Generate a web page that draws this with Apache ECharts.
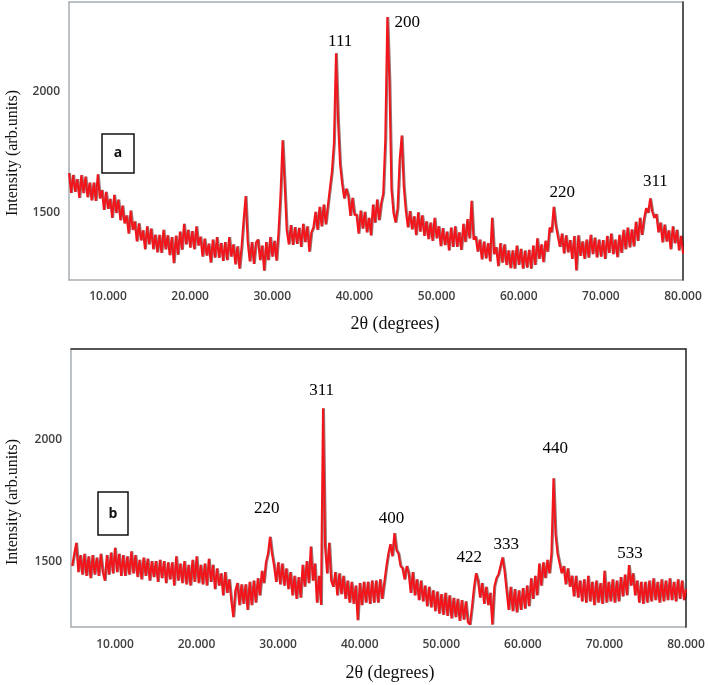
<!DOCTYPE html>
<html><head><meta charset="utf-8">
<script src="https://cdn.jsdelivr.net/npm/echarts@6/dist/echarts.min.js"></script>
<style>html,body{margin:0;padding:0;background:#fff}#c{width:708px;height:685px}</style>
</head><body><div id="c"></div>
<script>
// sampling grid of the two patterns (2θ, degrees)
const angleStartA = 5.25;
const angleStartB = 4.75;
const angleStep = 0.25;

// pattern (a): intensity, 5.25° .. 80.0°
const intensityA = [
1665,1583,1657,1587, 1640,1562,1657,1582, 1650,1565,1625,1552, 1625,1550,1660,1560,
1595,1513,1587,1517, 1558,1480,1575,1500, 1555,1470,1530,1457, 1490,1415,1510,1430,
1465,1383,1457,1387, 1428,1350,1445,1370, 1435,1350,1410,1337, 1410,1335,1430,1350,
1408,1326,1400,1293, 1406,1328,1423,1348, 1455,1370,1430,1357, 1425,1350,1445,1365,
1402,1320,1394,1324, 1373,1295,1390,1315, 1400,1315,1375,1302, 1380,1305,1400,1320,
1370,1288,1362,1270, 1358,1470,1570,1380, 1300,1380,1290,1378, 1390,1305,1365,1262,
1380,1305,1400,1320, 1385,1303,1420,1580, 1800,1620,1430,1370, 1450,1368,1442,1372,
1438,1360,1455,1380, 1445,1340,1420,1440, 1505,1430,1525,1445, 1535,1453,1527,1600,
1670,1790,2160,1880, 1700,1620,1560,1600, 1570,1488,1562,1492, 1493,1415,1510,1435,
1505,1420,1480,1407, 1535,1460,1555,1470, 1540,1580,1800,2310, 2050,1600,1500,1460,
1520,1720,1820,1610, 1510,1440,1508,1432, 1486,1408,1503,1423, 1490,1405,1465,1392,
1460,1385,1480,1395, 1445,1363,1437,1367, 1423,1345,1440,1360, 1445,1360,1420,1347,
1455,1380,1475,1395, 1550,1390,1402,1340, 1390,1308,1382,1312, 1375,1300,1480,1330,
1358,1280,1375,1295, 1370,1285,1345,1272, 1345,1270,1365,1285, 1352,1270,1344,1274,
1348,1270,1365,1285, 1395,1310,1370,1297, 1385,1340,1440,1420, 1525,1450,1405,1360,
1415,1333,1407,1337, 1388,1310,1405,1262, 1408,1323,1383,1310, 1390,1315,1410,1330,
1398,1316,1390,1320, 1388,1310,1405,1335, 1415,1330,1390,1317, 1410,1335,1430,1350,
1440,1358,1432,1362, 1463,1385,1480,1410, 1475,1520,1500,1560, 1505,1480,1495,1420,
1460,1378,1452,1382, 1428,1350,1445,1375, 1430,1345,1405,1332
];

// pattern (b): intensity, 4.75° .. 80.0°
const intensityB = [
1480,
1530,1575,1455,1525, 1445,1530,1440,1520, 1430,1525,1445,1515, 1440,1530,1455,1420,
1525,1445,1535,1450, 1555,1455,1530,1440, 1525,1440,1520,1445, 1540,1450,1525,1435,
1505,1425,1515,1440, 1510,1420,1500,1435, 1500,1415,1505,1430, 1500,1410,1495,1425,
1495,1400,1520,1420, 1490,1410,1500,1405, 1485,1400,1505,1415, 1520,1410,1485,1405,
1490,1400,1510,1415, 1485,1385,1470,1400, 1450,1360,1455,1370, 1425,1340,1270,1380,
1410,1320,1405,1325, 1405,1300,1415,1320, 1420,1330,1430,1360, 1460,1410,1495,1530,
1600,1530,1480,1415, 1495,1405,1490,1400, 1470,1385,1455,1360, 1440,1345,1435,1350,
1485,1395,1500,1410, 1560,1420,1490,1330, 1440,1320,2127,1560, 1450,1575,1420,1395,
1455,1360,1450,1365, 1440,1345,1420,1330, 1415,1325,1400,1258, 1410,1320,1415,1330,
1415,1325,1420,1330, 1420,1330,1425,1345, 1410,1475,1530,1570, 1520,1615,1545,1530,
1480,1470,1425,1480, 1450,1370,1455,1360, 1425,1340,1420,1335, 1400,1315,1395,1310,
1380,1295,1375,1285, 1365,1280,1370,1275, 1360,1265,1350,1270, 1345,1255,1340,1260,
1335,1250,1240,1310, 1390,1450,1420,1350, 1410,1325,1395,1320, 1370,1240,1395,1430,
1445,1480,1515,1460, 1380,1300,1395,1295, 1385,1290,1380,1300, 1390,1305,1400,1315,
1430,1345,1440,1360, 1490,1400,1495,1430, 1505,1450,1530,1840, 1610,1530,1490,1450,
1480,1405,1470,1395, 1440,1355,1440,1350, 1420,1335,1425,1330, 1440,1335,1415,1320,
1420,1330,1410,1325, 1460,1330,1415,1335, 1425,1330,1420,1335, 1435,1355,1445,1360,
1484,1400,1450,1360, 1420,1330,1415,1325, 1415,1330,1420,1335, 1430,1340,1415,1330,
1425,1335,1420,1340, 1430,1340,1415,1335, 1425,1345,1420,1340,
1385
];

const xTickValues = [10, 20, 30, 40, 50, 60, 70, 80];
const yTickValues = [1500, 2000];

// reflection labels: [text, 2θ, intensity] (label centre)
const peakLabelsA = [['111', 38.26, 2210], ['200', 46.42, 2289], ['220', 65.3, 1583], ['311', 76.63, 1628]];
const peakLabelsB = [['311', 35.33, 2201], ['220', 28.6, 1717], ['400', 43.9, 1676], ['422', 53.44, 1516],
                     ['333', 57.97, 1570], ['440', 63.97, 1963], ['533', 73.14, 1533]];

function pairs(start, vals) { return vals.map((v, i) => [start + i * angleStep, v]); }

const tickFont = { fontFamily: 'Open Sans', fontWeight: 600, fontSize: 12, color: '#3f3f3f' };
const serif = 'Liberation Serif';

function xAxis(gi, min, margin) {
  return { type: 'value', gridIndex: gi, min: min, max: 80,
    axisLine: { show: false }, axisTick: { show: false }, splitLine: { show: false },
    axisLabel: Object.assign({ customValues: xTickValues, margin: margin,
      formatter: v => v.toFixed(3) }, tickFont) };
}
function yAxis(gi, min, max) {
  return { type: 'value', gridIndex: gi, min: min, max: max,
    axisLine: { show: false }, axisTick: { show: false }, splitLine: { show: false },
    axisLabel: Object.assign({ customValues: yTickValues, margin: 9, formatter: v => String(v) }, tickFont) };
}
function edgeY(gi, min, max) {
  return { type: 'value', gridIndex: gi, min: min, max: max, position: 'right',
    axisLine: { show: true, lineStyle: { color: '#333', width: 1.5 } },
    axisTick: { show: false }, axisLabel: { show: false }, splitLine: { show: false } };
}
const lineStyle = { color: '#f2161c', width: 2, shadowColor: 'rgba(70,0,0,0.55)', shadowBlur: 0, shadowOffsetX: 1 };

function labelSeries(xi, yi, arr) {
  return { type: 'scatter', xAxisIndex: xi, yAxisIndex: yi, symbolSize: 1, silent: true,
    itemStyle: { color: 'rgba(0,0,0,0)', opacity: 1 },
    label: { show: true, position: 'inside', formatter: '{b}', fontFamily: serif, fontSize: 17, color: '#000' },
    data: arr.map(p => ({ name: p[0], value: [p[1], p[2]] })) };
}

const chart = echarts.init(document.getElementById('c'));
chart.setOption({
  animation: false,
  backgroundColor: '#fff',
  grid: [
    { left: 69, top: 2, width: 614, height: 278, show: true, borderColor: '#a6adb4', borderWidth: 1.5 },
    { left: 71, top: 349, width: 615, height: 278, show: true, borderColor: '#a6adb4', borderWidth: 1.5 }
  ],
  xAxis: [
    xAxis(0, 5.25, 11),
    xAxis(1, 4.61, 12),
    { type: 'value', gridIndex: 1, min: 4.61, max: 80, position: 'top',
      axisLine: { show: true, lineStyle: { color: '#333', width: 1.5 } },
      axisTick: { show: false }, axisLabel: { show: false }, splitLine: { show: false } }
  ],
  yAxis: [
    yAxis(0, 1223, 2372),
    yAxis(1, 1230, 2370),
    edgeY(0, 1223, 2372),
    edgeY(1, 1230, 2370)
  ],
  series: [
    { type: 'line', xAxisIndex: 0, yAxisIndex: 0, data: pairs(angleStartA, intensityA),
      showSymbol: false, sampling: null, lineStyle: lineStyle, silent: true },
    { type: 'line', xAxisIndex: 1, yAxisIndex: 1, data: pairs(angleStartB, intensityB),
      showSymbol: false, sampling: null, lineStyle: lineStyle, silent: true },
    labelSeries(0, 0, peakLabelsA),
    labelSeries(1, 1, peakLabelsB)
  ],
  graphic: [
    { type: 'text', x: 13, y: 153, rotation: Math.PI / 2,
      style: { text: 'Intensity (arb.units)', font: '16px "Liberation Serif"', fill: '#111', align: 'center', verticalAlign: 'middle' } },
    { type: 'text', x: 13, y: 502, rotation: Math.PI / 2,
      style: { text: 'Intensity (arb.units)', font: '16px "Liberation Serif"', fill: '#111', align: 'center', verticalAlign: 'middle' } },
    { type: 'text', x: 395, y: 324,
      style: { text: '2θ (degrees)', font: '18px "Liberation Serif"', fill: '#111', align: 'center', verticalAlign: 'middle' } },
    { type: 'text', x: 390, y: 673,
      style: { text: '2θ (degrees)', font: '18px "Liberation Serif"', fill: '#111', align: 'center', verticalAlign: 'middle' } },
    { type: 'rect', shape: { x: 102, y: 134, width: 32, height: 39 }, style: { fill: '#fff', stroke: '#111', lineWidth: 1.5 } },
    { type: 'text', x: 118, y: 153, style: { text: 'a', font: 'bold 14px "Open Sans"', fill: '#111', align: 'center', verticalAlign: 'middle' } },
    { type: 'rect', shape: { x: 98, y: 492, width: 30, height: 43 }, style: { fill: '#fff', stroke: '#111', lineWidth: 1.5 } },
    { type: 'text', x: 113, y: 514, style: { text: 'b', font: 'bold 14px "Open Sans"', fill: '#111', align: 'center', verticalAlign: 'middle' } }
  ]
});
</script></body></html>
